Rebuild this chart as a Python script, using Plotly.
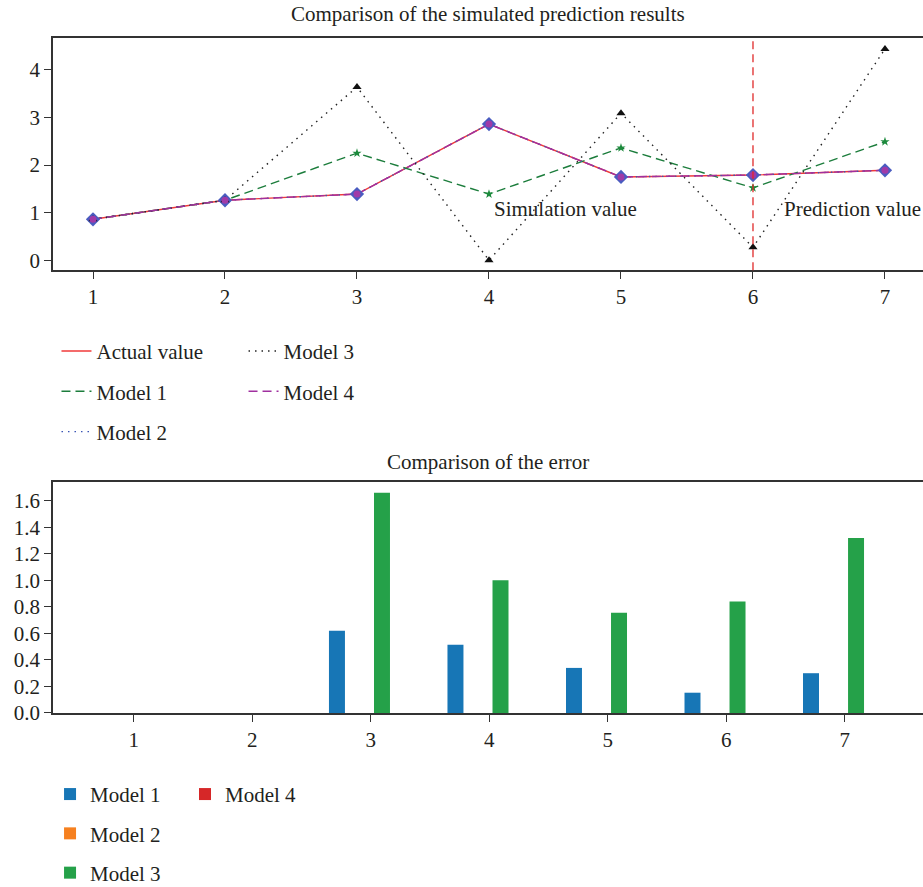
import plotly.graph_objects as go

x_vals = [1, 2, 3, 4, 5, 6, 7]
actual = [0.86, 1.26, 1.39, 2.86, 1.75, 1.79, 1.89]
model1 = [0.86, 1.26, 2.25, 1.39, 2.36, 1.52, 2.49]
model2 = [0.86, 1.26, 1.39, 2.86, 1.75, 1.79, 1.89]
model3 = [0.86, 1.26, 3.64, 0.0, 3.09, 0.27, 4.44]
model4 = [0.86, 1.26, 1.39, 2.86, 1.75, 1.79, 1.89]

err1 = [0, 0, 0.62, 0.515, 0.34, 0.153, 0.30]
err2 = [0, 0, 0, 0, 0, 0, 0]
err3 = [0, 0, 1.66, 1.0, 0.755, 0.84, 1.32]
err4 = [0, 0, 0, 0, 0, 0, 0]

FONT = "Liberation Serif"
FS = 21
TXT = "#231f20"
AX = "#333333"

fig = go.Figure()

# ---- top chart: lines ----
line_specs = [
    ("Actual value", actual, "#f03a3a", "solid", "legend", None),
    ("Model 1", model1, "#1c7d3c", "9px,5px", "legend", dict(symbol="star", size=7, color="#1c8a3c")),
    ("Model 2", model2, "#3a55b5", "1.5px,5px", "legend", dict(symbol="diamond", size=11, color="#4a5cc0")),
    ("Model 3", model3, "#222222", "1.5px,5px", "legend2", dict(symbol="triangle-up", size=8, color="#111111")),
    ("Model 4", model4, "#a0309f", "9px,5px", "legend2", dict(symbol="circle", size=7, color="#a03aa8")),
]
for name, ys, col, dash, leg, mk in line_specs:
    fig.add_trace(go.Scatter(
        x=x_vals, y=ys, mode="lines", name=name,
        line=dict(color=col, dash=dash, width=1.4),
        xaxis="x", yaxis="y", legend=leg, legendgroup=name,
    ))
for name, ys, col, dash, leg, mk in line_specs:
    if mk is not None:
        fig.add_trace(go.Scatter(
            x=x_vals, y=ys, mode="markers", marker=mk, showlegend=False,
            xaxis="x", yaxis="y", hoverinfo="skip",
        ))

# ---- bottom chart: bars ----
bar_specs = [
    ("Model 1", err1, "#1776b6", "legend3"),
    ("Model 2", err2, "#f6801f", "legend3"),
    ("Model 3", err3, "#25a149", "legend3"),
    ("Model 4", err4, "#d62728", "legend4"),
]
for name, ys, col, leg in bar_specs:
    fig.add_trace(go.Bar(
        x=x_vals, y=ys, name=name, marker_color=col, marker_line_width=0,
        xaxis="x2", yaxis="y2", legend=leg, legendgroup="b" + name,
    ))

axis_common = dict(
    showline=True, linecolor=AX, linewidth=1.5, ticks="outside",
    tickcolor=AX, ticklen=7, tickwidth=1.3, showgrid=False, zeroline=False,
    tickfont=dict(family=FONT, size=FS, color=TXT),
)

leg_common = dict(
    font=dict(family=FONT, size=FS, color=TXT), bgcolor="rgba(0,0,0,0)",
    traceorder="grouped", orientation="v",
    xanchor="left", yanchor="top", yref="container",
)

fig.update_layout(
    width=923, height=887,
    margin=dict(l=53, r=0, t=38, b=174, autoexpand=False),
    plot_bgcolor="white", paper_bgcolor="white",
    barmode="group", bargap=0.24, bargroupgap=0.29,
    hovermode=False,
    xaxis=dict(domain=[0, 1], anchor="y", range=[0.697, 7.288], tickvals=x_vals,
               mirror=True, **axis_common),
    yaxis=dict(domain=[0.656, 1.0], anchor="x", range=[-0.21, 4.67], tickvals=[0, 1, 2, 3, 4],
               **axis_common),
    xaxis2=dict(domain=[0, 1], anchor="y2", range=[0.319, 7.66], tickvals=x_vals,
                mirror=True, **axis_common),
    yaxis2=dict(domain=[0, 0.3415], anchor="x2", range=[0, 1.738],
                tickvals=[0, 0.2, 0.4, 0.6, 0.8, 1.0, 1.2, 1.4, 1.6], tickformat=".1f",
                **axis_common),
    legend=dict(x=0.004, y=0.627, tracegroupgap=10, **leg_common),
    legend2=dict(x=0.219, y=0.627, tracegroupgap=10, **leg_common),
    legend3=dict(x=-0.0034, y=0.1275, tracegroupgap=9, **leg_common),
    legend4=dict(x=0.1517, y=0.1275, tracegroupgap=9, **leg_common),
    shapes=[dict(type="line", xref="x", yref="y domain", x0=6, x1=6, y0=0, y1=1,
                 line=dict(color="#e02a2a", dash="8px,5px", width=1.3))],
    annotations=[
        dict(text="Comparison of the simulated prediction results", xref="paper", yref="paper",
             x=0.5, y=1.0355, showarrow=False, yanchor="middle",
             font=dict(family=FONT, size=FS, color=TXT)),
        dict(text="Comparison of the error", xref="paper", yref="paper",
             x=0.5, y=0.372, showarrow=False, yanchor="middle",
             font=dict(family=FONT, size=FS, color=TXT)),
        dict(text="Simulation value", xref="x", yref="y", x=4.02, y=1.07,
             xanchor="left", yanchor="middle", showarrow=False,
             font=dict(family=FONT, size=FS, color=TXT)),
        dict(text="Prediction value", xref="x", yref="y", x=6.22, y=1.07,
             xanchor="left", yanchor="middle", showarrow=False,
             font=dict(family=FONT, size=FS, color=TXT)),
    ],
)

fig.write_html(
    "out.html",
    config={"displayModeBar": False},
    post_script="document.body.style.margin='0';document.body.style.overflow='hidden';",
)
